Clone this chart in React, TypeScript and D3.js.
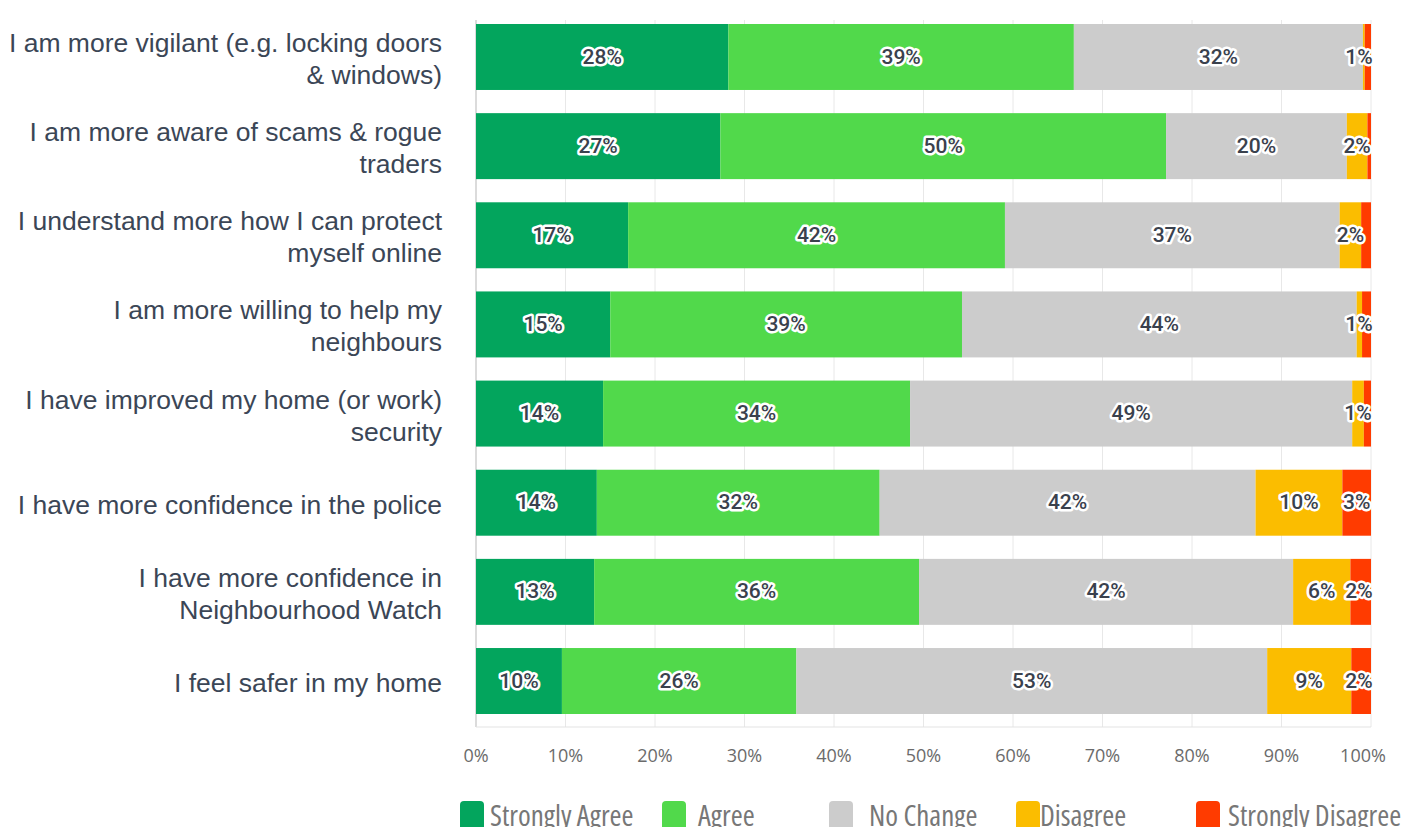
import React from "react";
import * as d3 from "d3";

const categories = [
  ["I am more vigilant (e.g. locking doors", "& windows)"],
  ["I am more aware of scams & rogue", "traders"],
  ["I understand more how I can protect", "myself online"],
  ["I am more willing to help my", "neighbours"],
  ["I have improved my home (or work)", "security"],
  ["I have more confidence in the police"],
  ["I have more confidence in", "Neighbourhood Watch"],
  ["I feel safer in my home"],
];

const seriesNames = ["Strongly Agree", "Agree", "No Change", "Disagree", "Strongly Disagree"];
const seriesColors = ["#03a55d", "#51d94b", "#cccccc", "#fbbd00", "#ff3b00"];

const stronglyAgree = [28.2, 27.3, 17.0, 15.0, 14.2, 13.5, 13.2, 9.6];
const agree = [38.6, 49.8, 42.1, 39.3, 34.3, 31.6, 36.3, 26.2];
const noChange = [32.3, 20.2, 37.4, 44.1, 49.4, 42.0, 41.8, 52.6];
const disagree = [0.2, 2.3, 2.4, 0.6, 1.3, 9.7, 6.4, 9.4];
const stronglyDisagree = [0.7, 0.4, 1.1, 1.0, 0.8, 3.2, 2.3, 2.2];

const tickValues = [0, 10, 20, 30, 40, 50, 60, 70, 80, 90, 100];

const W = 1402;
const H = 827;
const X0 = 476;
const X1 = 1371;
const LEGEND_X = [460, 662, 829, 1016, 1196];
const LEGEND_TEXT_DX = [30, 36, 40, 24, 32];

export default function App() {
  const series = [stronglyAgree, agree, noChange, disagree, stronglyDisagree];
  const x = d3.scaleLinear().domain([0, 100]).range([X0, X1]);
  const y = d3
    .scaleBand<number>()
    .domain(categories.map((_, i) => i))
    .range([24, 714])
    .paddingInner(0.26)
    .paddingOuter(0);

  const rows = categories.map((_, i) => {
    let acc = 0;
    const segs = series.map((s, k) => {
      const start = acc;
      acc += s[i];
      return { k, start, end: acc, v: s[i] };
    });
    const labels: { k: number; cx: number; text: string }[] = [];
    let lastRight = -Infinity;
    segs.forEach((sg) => {
      const r = Math.round(sg.v);
      if (r < 1) return;
      const text = `${r}%`;
      const w = text.length * 12 + 6;
      let cx = (x(sg.start) + x(sg.end)) / 2;
      cx = Math.min(cx, X1 - w / 2 + 3);
      const left = cx - w / 2;
      if (left < lastRight - 3) return;
      lastRight = cx + w / 2;
      labels.push({ k: sg.k, cx, text });
    });
    return { segs, labels };
  });

  const labelFont = "Roboto, 'Open Sans', sans-serif";
  const tickFont = "'Open Sans', 'Noto Sans', sans-serif";

  return (
    <svg
      width={W}
      height={H}
      style={{ position: "absolute", left: 0, top: 0, background: "#fff" }}
    >
      {tickValues.map((t) => (
        <line
          key={"g" + t}
          x1={x(t)}
          x2={x(t)}
          y1={20}
          y2={727}
          stroke={t === 0 ? "#cfcfcf" : "#e8e8e8"}
          strokeWidth={t === 0 ? 1.5 : 1}
        />
      ))}
      <line x1={X0} x2={X1} y1={727} y2={727} stroke="#e3e3e3" strokeWidth={1} />

      {rows.map((row, i) => (
        <g key={"r" + i}>
          {row.segs.map((sg) => (
            <rect
              key={sg.k}
              x={x(sg.start)}
              y={y(i)}
              width={Math.max(0, x(sg.end) - x(sg.start))}
              height={y.bandwidth()}
              fill={seriesColors[sg.k]}
            />
          ))}
        </g>
      ))}

      {rows.map((row, i) =>
        row.labels.map((lb) => (
          <text
            key={`l${i}-${lb.k}`}
            x={lb.cx}
            y={(y(i) as number) + y.bandwidth() / 2 + 1}
            textAnchor="middle"
            dominantBaseline="middle"
            fontFamily={labelFont}
            fontSize={21}
            fontWeight={500}
            fill="#3a414d"
            stroke="#ffffff"
            strokeWidth={5}
            strokeLinejoin="round"
            paintOrder="stroke"
          >
            {lb.text}
          </text>
        ))
      )}

      {categories.map((lines, i) => {
        const cy = (y(i) as number) + y.bandwidth() / 2;
        const lh = 32;
        const startY = cy - ((lines.length - 1) * lh) / 2 + 4;
        return (
          <text
            key={"c" + i}
            textAnchor="end"
            fontFamily="Arial, 'Liberation Sans', sans-serif"
            fontSize={26.5}
            fill="#3b4656"
          >
            {lines.map((ln, j) => (
              <tspan key={j} x={442} y={startY + j * lh} dominantBaseline="middle">
                {ln}
              </tspan>
            ))}
          </text>
        );
      })}

      {tickValues.map((t) => (
        <text
          key={"t" + t}
          x={x(t) + (t === 100 ? -8 : 0)}
          y={757}
          textAnchor="middle"
          dominantBaseline="middle"
          fontFamily={tickFont}
          fontSize={18}
          fill="#6b6b6b"
        >
          {t}%
        </text>
      ))}

      {seriesNames.map((name, k) => (
        <g key={"lg" + k}>
          <rect
            x={LEGEND_X[k]}
            y={801}
            width={24}
            height={30}
            rx={4}
            fill={seriesColors[k]}
          />
          <text
            x={LEGEND_X[k] + LEGEND_TEXT_DX[k]}
            y={826}
            fontFamily={tickFont}
            fontSize={29}
            fill="#777777"
            style={{ fontStretch: "condensed" }}
          >
            {name}
          </text>
        </g>
      ))}
    </svg>
  );
}
